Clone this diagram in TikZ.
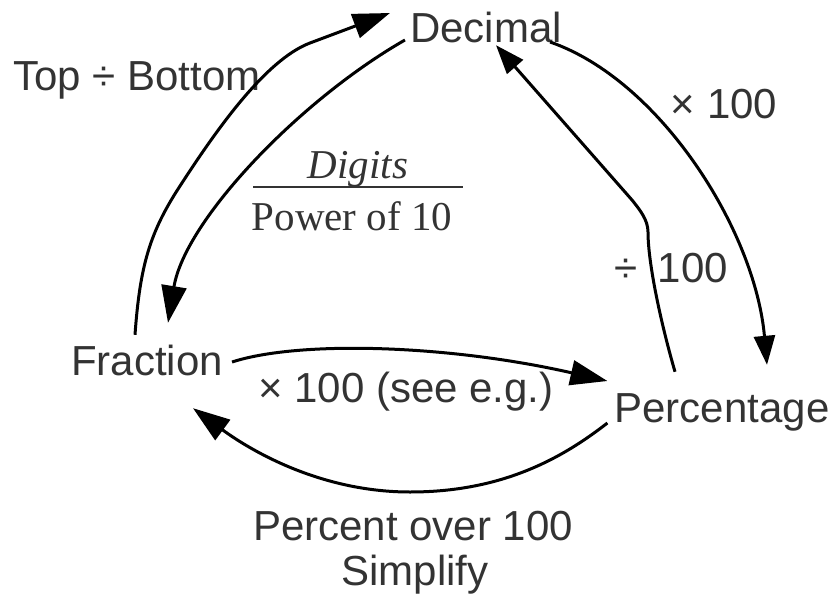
\documentclass[tikz,border=0pt]{standalone}
\usepackage{fontspec}
\setmainfont{Liberation Sans}
\newfontfamily\seriffont{Liberation Serif}
\usetikzlibrary{arrows.meta,calc}
\definecolor{txt}{HTML}{333333}
\begin{document}
\begin{tikzpicture}[x=1pt,y=-1pt,
  lbl/.style={inner sep=0pt,anchor=base,text=txt,font=\fontsize{42}{48}\selectfont},
  place/.style={lbl,text height=30pt,text depth=9pt},
  ser/.style={inner sep=0pt,anchor=base,text=txt,font=\seriffont\fontsize{41}{47}\selectfont},
  conn/.style={line width=3pt,-{Triangle[length=37pt,width=25pt]}},
  connsmall/.style={line width=3pt,-{Triangle[length=29pt,width=21pt]}}]
\useasboundingbox (0,0) rectangle (833,597);
% main nodes
\node[place] (dec)  at (486,42)  {Decimal};
\node[place] (frac) at (147,375) {Fraction};
\node[place] (perc) at (722,422) {Percentage};
% labels
\node[lbl] (ltb)  at (137,90)  {Top ÷ Bottom};
\node[lbl] (lx1)  at (724,118) {× 100};
\node[lbl] (ld1)  at (671,282) {÷\hspace{9pt} 100};
\node[lbl] (lx2)  at (406,402) {× 100 (see e.g.)};
\node[lbl] (lpo)  at (413,540) {Percent over 100};
\node[lbl] (lsi)  at (415,585) {Simplify};
\node[ser] (ldig) at (358,178) {\itshape Digits};
\node[ser] (lpow) at (352,230) {Power of 10};
\draw[line width=2pt,txt] (253,187) -- (463,187);
% connectors
\draw[conn] ($(frac.north)+(-12,-10)$) .. controls (140,265) and (150,232) .. (180,186)
  .. controls (215,132) and (265,60) .. (310,43) -- ($(dec.west)+(-20,-18.5)$);
\draw[conn] ($(dec.west)+(-5,8.5)$) .. controls (300,100) and (185,220) .. ($(frac.north)+(21,-22)$);
\draw[connsmall] ($(perc.north)+(-47,-20)$) .. controls (660,320) and (648,262) .. (648,232)
  .. controls (648,220) and (640,210) .. (632,200) -- ($(dec.south)+(10,-6)$);
\draw[connsmall] ($(dec.east)+(-12,10.5)$) .. controls (660,80) and (755,230) .. ($(perc.north)+(45,-27)$);
\draw[conn] ($(frac.east)+(9,-2.5)$) .. controls (300,340) and (450,345) .. ($(perc.west)+(-7,-30.5)$);
\draw[conn] ($(perc.west)+(-7,11.5)$) .. controls (560,460) and (500,492) .. (410,492)
  .. controls (320,492) and (250,450) .. ($(frac.south)+(46,24)$);
\end{tikzpicture}
\end{document}
